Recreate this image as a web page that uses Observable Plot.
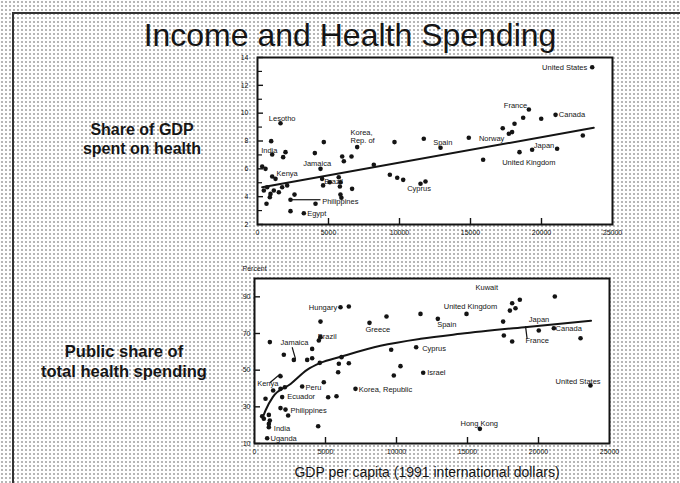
<!DOCTYPE html>
<html>
<head>
<meta charset="utf-8">
<script src="https://cdn.jsdelivr.net/npm/d3@7"></script>
<script src="https://cdn.jsdelivr.net/npm/@observablehq/plot@0.6"></script>
<style>
  html, body { margin: 0; padding: 0; }
  body {
    width: 680px; height: 483px; position: relative; overflow: hidden;
    background-color: #fff;
    background-image: radial-gradient(circle, #ababab 0.65px, transparent 1.05px);
    background-size: 4px 4px;
    font-family: "Liberation Sans", Arial, sans-serif;
    color: #151515;
  }
  .edge-top { position: absolute; left: 12px; top: 12px; width: 668px; height: 0; border-top: 2px solid #333; }
  .edge-left { position: absolute; left: 12px; top: 12px; width: 0; height: 471px; border-left: 2px solid #333; }
  .title { position: absolute; left: 100px; width: 500px; top: 19px; text-align: center;
           font-size: 32px; line-height: 32px; white-space: nowrap; }
  .row { position: absolute; text-align: center; font-weight: bold; white-space: nowrap; }
  .row1 { left: 42px; width: 200px; top: 120px; font-size: 16px; line-height: 19px; }
  .row2 { left: 24px; width: 200px; top: 341px; font-size: 16.5px; line-height: 20px; }
  .xtitle { position: absolute; left: 277px; width: 300px; top: 465px; text-align: center;
            font-size: 14px; line-height: 14px; white-space: nowrap; }
  .chart { position: absolute; }
  .chart svg { overflow: visible; }
</style>
</head>
<body>
<div class="edge-top"></div>
<div class="edge-left"></div>
<div class="title">Income and Health Spending</div>
<div class="row row1">Share of GDP<br>spent on health</div>
<div class="row row2">Public share of<br>total health spending</div>
<div class="xtitle">GDP per capita (1991 international dollars)</div>
<div id="top" class="chart" style="left:227px; top:47px;"></div>
<div id="bottom" class="chart" style="left:224px; top:260px;"></div>

<script>
// Axis ticks
const gdpTicks = [0, 5000, 10000, 15000, 20000, 25000];
const shareTicks = [2, 4, 6, 8, 10, 12, 14];
const shareMinorTicks = [3, 5, 7, 9, 11, 13];
const publicTicks = [10, 30, 50, 70, 90];

// Health spending as % of GDP, by GDP per capita
const healthShare = [
  [1620, 9.28], [963, 7.99], [1035, 7.03], [1972, 7.2], [1807, 6.84],
  [4670, 7.92], [4037, 7.13], [7020, 7.56], [5963, 6.89], [6080, 6.55],
  [6620, 6.89], [9648, 7.92], [11710, 8.16], [12890, 7.51], [8190, 6.29],
  [4437, 6.0], [330, 6.17], [564, 6.0], [1035, 5.45], [1268, 5.28],
  [9320, 5.57], [9840, 5.36], [10260, 5.21], [11480, 4.93], [11830, 5.09],
  [4550, 5.28], [4620, 4.81], [5090, 5.04], [5720, 5.4], [5840, 5.04],
  [5800, 4.73], [6660, 4.56], [5840, 4.15], [5910, 3.92], [634, 3.49],
  [2324, 3.78], [4085, 3.49], [2324, 2.96], [3263, 2.81], [915, 4.2],
  [1150, 4.44], [1502, 4.32], [1737, 4.68], [2089, 4.81], [681, 4.68],
  [869, 3.96], [2606, 4.15], [446, 4.44],
  [23570, 13.3], [19110, 10.26], [18710, 9.67], [19980, 9.6], [20990, 9.88],
  [18100, 9.24], [17270, 8.92], [17930, 8.64], [17700, 8.52], [14880, 8.23],
  [19340, 7.37], [21100, 7.44], [18450, 7.2], [15890, 6.65], [22910, 8.4]
];

// Public share of total health spending (%), by GDP per capita
const publicShare = [
  [6056, 84.3], [6643, 84.7], [4648, 76.5], [8098, 75.8], [9295, 79.3],
  [11690, 80.7], [12910, 78.0], [1080, 65.3], [2065, 58.4], [4060, 61.6],
  [3710, 55.6], [4060, 56.5], [2770, 55.6], [4530, 66.2], [4648, 68.0],
  [4600, 54.0], [5940, 53.5], [6643, 53.8], [5890, 48.9], [6128, 57.1],
  [9625, 61.1], [11385, 62.5], [10280, 52.2], [9810, 47.1], [11880, 48.6],
  [4880, 43.4], [3357, 41.1], [7112, 39.8], [5187, 35.2], [5774, 35.8],
  [2136, 40.7], [1314, 38.9], [1831, 39.8], [775, 34.4], [1948, 35.3],
  [1831, 29.3], [2183, 28.5], [2370, 25.3], [4484, 19.4], [540, 24.9],
  [657, 23.5], [1010, 25.6], [1080, 22.5], [1010, 20.7], [1010, 18.9],
  [892, 12.9], [1831, 46.7],
  [21150, 90.2], [18685, 88.4], [18145, 86.5], [18380, 83.8], [17985, 82.5],
  [14930, 80.7], [17510, 76.5], [20020, 71.6], [21080, 72.9], [17560, 68.9],
  [18145, 65.6], [22960, 67.4], [23660, 41.6], [15870, 18.0]
];

// Country names: [name, gdp, value] where the text starts
const shareLabels = [
  ["Lesotho", 798, 9.6], ["India", 258, 7.32], ["Korea,", 6549, 8.59],
  ["Rep. of", 6549, 8.04], ["Spain", 12370, 7.92], ["Jamaica", 3216, 6.41],
  ["Kenya", 1338, 5.64], ["Cyprus", 10540, 4.57], ["Brazil", 4700, 5.1],
  ["Philippines", 4555, 3.68], ["Egypt", 3497, 2.77], ["France", 17345, 10.55],
  ["Canada", 21220, 9.88], ["Norway", 15590, 8.16], ["Japan", 19460, 7.68],
  ["United Kingdom", 17230, 6.48]
];
// names that end at the given point
const shareLabelsEnd = [["United States", 23215, 13.3]];

const publicLabels = [
  ["United Kingdom", 13330, 84.9], ["Greece", 7817, 72.2], ["Spain", 12865, 74.7],
  ["Jamaica", 1831, 65.3], ["Brazil", 4460, 68.4], ["Cyprus", 11810, 62.0],
  ["Israel", 12160, 48.5], ["Peru", 3590, 40.6], ["Korea, Republic", 7347, 39.4],
  ["Kenya", 188, 42.5], ["Ecuador", 2300, 35.8], ["Philippines", 2535, 28.0],
  ["India", 1361, 18.3], ["Uganda", 1127, 12.9], ["Kuwait", 15560, 94.9],
  ["Japan", 19320, 77.5], ["Canada", 21200, 72.5], ["France", 19085, 66.2],
  ["United States", 21200, 43.8], ["Hong Kong", 14505, 20.7]
];
const publicLabelsEnd = [["Hungary", 5822, 84.3]];

// Fitted trends
const shareTrend = [[330, 4.68], [23680, 8.95]];
const publicTrend = [
  [650, 25.6], [775, 28.0], [1300, 35.4], [2540, 42.5], [3700, 50.2],
  [4650, 54.0], [6060, 57.3], [8870, 63.3], [11700, 67.1], [14500, 69.8],
  [19200, 73.6], [23700, 77.0]
];

// Leader lines from names to their points: [x1, y1, x2, y2]
const shareLeaders = [[2324, 3.78, 4437, 3.78]];
const publicLeaders = [
  [2653, 62.5, 2887, 56.2], [1080, 43.1, 1831, 48.0], [19085, 74.0, 19200, 67.1]
];

const ink = "#141414";
const pt = d => ({x: d[0], y: d[1]});
const lab = d => ({name: d[0], x: d[1], y: d[2]});
const seg = d => ({x1: d[0], y1: d[1], x2: d[2], y2: d[3]});

function panel({points, labels, labelsEnd, trend, leaders, yDomain, yTicks, yMinor,
                marginTop, height, yPad, curve, note}) {
  const W = 355; // inner width
  return Plot.plot({
    width: 400, height,
    marginLeft: 30, marginRight: 15, marginTop, marginBottom: 20,
    style: {background: "transparent", fontFamily: "Liberation Sans, Arial, sans-serif",
            fontSize: "7px", color: ink, overflow: "visible"},
    x: {domain: [0, 25000]},
    y: {domain: yDomain},
    marks: [
      Plot.frame({fill: "white"}),
      Plot.tickY(yTicks, {y: d => d, insetRight: W - 6, stroke: ink, strokeWidth: 1.4}),
      Plot.tickY(yMinor, {y: d => d, insetRight: W - 5, stroke: ink, strokeWidth: 1.2}),
      Plot.tickX(gdpTicks.slice(1, -1), {x: d => d, insetTop: height - marginTop - 20 - 6,
                 stroke: ink, strokeWidth: 1.4}),
      Plot.axisX(gdpTicks, {tickSize: 0, tickPadding: 6, tickFormat: d3.format("d"),
                 label: null, fontSize: 7, fill: ink}),
      Plot.axisY(yTicks, {tickSize: 0, tickPadding: yPad, tickFormat: d3.format("d"),
                 label: null, fontSize: 7, fill: ink}),
      Plot.line(trend.map(pt), {x: "x", y: "y", stroke: ink, strokeWidth: 2, curve}),
      Plot.link(leaders.map(seg), {x1: "x1", y1: "y1", x2: "x2", y2: "y2",
                stroke: ink, strokeWidth: 1.2}),
      Plot.dot(points.map(pt), {x: "x", y: "y", r: 2.3, fill: ink, stroke: null}),
      Plot.text(labels.map(lab), {x: "x", y: "y", text: "name", textAnchor: "start",
                fontSize: 7.5, fill: ink}),
      Plot.text(labelsEnd.map(lab), {x: "x", y: "y", text: "name", textAnchor: "end",
                fontSize: 7.5, fill: ink}),
      note ? Plot.text([note], {frameAnchor: "top-left", dx: -12, dy: -12, text: d => d,
                fontSize: 7, fill: ink, textAnchor: "start"}) : null,
      Plot.frame({stroke: ink, strokeWidth: 2})
    ]
  });
}

document.getElementById("top").append(panel({
  points: healthShare, labels: shareLabels, labelsEnd: shareLabelsEnd,
  trend: shareTrend, leaders: shareLeaders,
  yDomain: [2, 14], yTicks: shareTicks, yMinor: shareMinorTicks,
  marginTop: 10, height: 197, yPad: 9, curve: "linear", note: null
}));

document.getElementById("bottom").append(panel({
  points: publicShare, labels: publicLabels, labelsEnd: publicLabelsEnd,
  trend: publicTrend, leaders: publicLeaders,
  yDomain: [10, 100], yTicks: publicTicks, yMinor: [],
  marginTop: 18, height: 203, yPad: 4, curve: "monotone-x", note: "Percent"
}));
</script>
</body>
</html>
